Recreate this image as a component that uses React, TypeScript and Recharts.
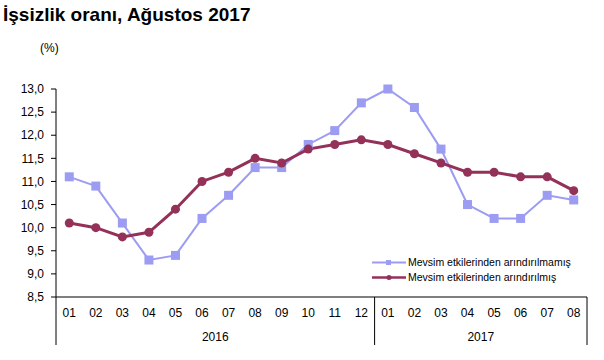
import React from "react";
import { LineChart, Line, XAxis, YAxis } from "recharts";

const months = ["01","02","03","04","05","06","07","08","09","10","11","12","01","02","03","04","05","06","07","08"];
const years = ["2016","2016","2016","2016","2016","2016","2016","2016","2016","2016","2016","2016","2017","2017","2017","2017","2017","2017","2017","2017"];
const unadjusted = [11.1,10.9,10.1,9.3,9.4,10.2,10.7,11.3,11.3,11.8,12.1,12.7,13.0,12.6,11.7,10.5,10.2,10.2,10.7,10.6];
const adjusted = [10.1,10.0,9.8,9.9,10.4,11.0,11.2,11.5,11.4,11.7,11.8,11.9,11.8,11.6,11.4,11.2,11.2,11.1,11.1,10.8];
const yTicks = [8.5,9.0,9.5,10.0,10.5,11.0,11.5,12.0,12.5,13.0];
const seriesNames = ["Mevsim etkilerinden arındırılmamış","Mevsim etkilerinden arındırılmış"];

const data = months.map((m, i) => ({ idx: i, m, year: years[i], u: unadjusted[i], a: adjusted[i] }));

const W = 604, H = 360;
const LEFT = 56, RIGHT = 587, TOP = 89, BOTTOM = 297;
const BW = (RIGHT - LEFT) / data.length;
const BLUE = "#9C9CF2";
const MAROON = "#933158";
const FONT = "'Liberation Sans', Arial, sans-serif";

const XTick = (props: any) => {
  const { x, y, payload } = props;
  const i = payload.index;
  const els: any[] = [];
  els.push(<text key="t" x={x} y={y + 20} textAnchor="middle" fontSize={12} fontFamily={FONT} fill="#000">{months[i]}</text>);
  const yearStart = i === 0 || years[i] !== years[i - 1];
  if (yearStart) {
    els.push(<line key="s" x1={x - BW / 2} x2={x - BW / 2} y1={y} y2={y + 48} stroke="#000" strokeWidth={1} />);
    const count = years.filter((yy) => yy === years[i]).length;
    const cx = x - BW / 2 + (count * BW) / 2;
    els.push(<text key="y" x={cx} y={y + 44} textAnchor="middle" fontSize={12} fontFamily={FONT} fill="#000">{years[i]}</text>);
  }
  if (i === data.length - 1) {
    els.push(<line key="e" x1={x + BW / 2} x2={x + BW / 2} y1={y} y2={y + 48} stroke="#000" strokeWidth={1} />);
  }
  return <g>{els}</g>;
};

const SquareDot = (props: any) => {
  const { cx, cy, index } = props;
  if (cx == null || cy == null) return <g key={`sq${index}`} />;
  return <rect key={`sq${index}`} x={cx - 4.5} y={cy - 4.5} width={9} height={9} fill={BLUE} />;
};

const CircleDot = (props: any) => {
  const { cx, cy, index } = props;
  if (cx == null || cy == null) return <g key={`ci${index}`} />;
  return <circle key={`ci${index}`} cx={cx} cy={cy} r={4.5} fill={MAROON} />;
};

const LegendBox = () => (
  <div style={{ position: "absolute", left: 372, top: 255, fontFamily: FONT, fontSize: 10.5, lineHeight: "15px", color: "#000" }}>
    {[BLUE, MAROON].map((c, i) => (
      <div key={i} style={{ display: "flex", alignItems: "center", whiteSpace: "nowrap" }}>
        <svg width={36} height={15}>
          <line x1={0} x2={34} y1={7.5} y2={7.5} stroke={c} strokeWidth={i === 0 ? 2 : 2.5} />
          {i === 0 ? <rect x={14} y={5} width={5} height={5} fill={c} /> : <circle cx={17} cy={7.5} r={2.5} fill={c} />}
        </svg>
        <span>{seriesNames[i]}</span>
      </div>
    ))}
  </div>
);

export default function App() {
  return (
    <div style={{ position: "absolute", left: 0, top: 0, width: W, height: H, background: "#fff" }}>
      <div style={{ position: "absolute", left: 3, top: 4, fontFamily: FONT, fontWeight: "bold", fontSize: 19, whiteSpace: "nowrap" }}>
        İşsizlik oranı, Ağustos 2017
      </div>
      <div style={{ position: "absolute", left: 40, top: 41, fontFamily: FONT, fontSize: 12 }}>(%)</div>
      <div style={{ position: "absolute", left: 0, top: 0 }}>
        <LineChart width={W} height={H} data={data} margin={{ top: TOP, right: W - RIGHT, bottom: H - BOTTOM - 50, left: 0 }}>
          <XAxis dataKey="idx" type="category" height={50} interval={0} tickLine={false} tickSize={0} tickMargin={0}
            padding={{ left: BW / 2, right: BW / 2 }}
            axisLine={{ stroke: "#000", strokeWidth: 1 }} tick={<XTick />} />
          <YAxis width={LEFT} domain={[8.5, 13]} ticks={yTicks} type="number" interval={0}
            axisLine={{ stroke: "#000", strokeWidth: 1 }} tickLine={{ stroke: "#000" }} tickSize={5} tickMargin={7}
            tick={{ fontSize: 12, fontFamily: FONT, fill: "#000" }}
            tickFormatter={(v: number) => v.toFixed(1).replace(".", ",")} />
          <Line dataKey="u" name={seriesNames[0]} stroke={BLUE} strokeWidth={2} dot={SquareDot} isAnimationActive={false} />
          <Line dataKey="a" name={seriesNames[1]} stroke={MAROON} strokeWidth={3} dot={CircleDot} isAnimationActive={false} />
        </LineChart>
      </div>
      <LegendBox />
    </div>
  );
}
